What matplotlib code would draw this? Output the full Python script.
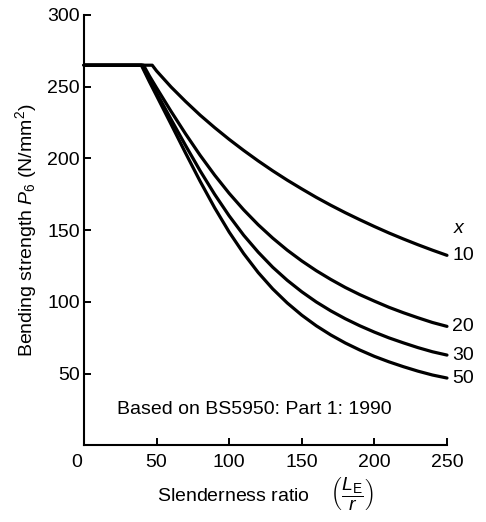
import matplotlib
matplotlib.use("Agg")
import matplotlib.pyplot as plt
from matplotlib.transforms import ScaledTranslation

plt.rcParams["font.family"] = ["Liberation Sans", "DejaVu Sans"]
plt.rcParams["mathtext.fontset"] = "custom"
plt.rcParams["mathtext.rm"] = "Liberation Sans"
plt.rcParams["mathtext.it"] = "Liberation Sans:italic"
plt.rcParams["mathtext.bf"] = "Liberation Sans:bold"

FS = 14

# Plateau strength (N/mm^2) and where each curve leaves it
plateau = 265
start_lambda = {10: 47, 20: 41, 30: 40, 50: 39.5}

# Slenderness ratio samples
lam = [45, 50, 60, 70, 80, 90, 100, 110, 120, 130, 140, 150,
       160, 170, 180, 190, 200, 210, 220, 230, 240, 250]

# Bending strength for each x value (None where still on the plateau)
pb_x10 = [None, 261.0, 249.8, 239.7, 230.2, 221.5, 213.3, 205.6, 198.3, 191.4, 184.9, 178.8,
          172.9, 167.4, 162.2, 157.3, 152.6, 148.1, 143.9, 139.9, 136.1, 132.5]
pb_x20 = [257.6, 249.2, 232.8, 217.1, 202.2, 188.4, 175.7, 164.2, 153.8, 144.5, 136.1, 128.6,
          121.8, 115.7, 110.1, 105.1, 100.6, 96.3, 92.5, 89.0, 85.7, 83.0]
pb_x30 = [255.0, 245.7, 227.2, 209.0, 191.4, 175.0, 160.0, 146.5, 134.7, 124.2, 115.1, 107.1,
          100.0, 93.8, 88.3, 83.4, 79.0, 75.0, 71.5, 68.2, 65.3, 63.0]
pb_x50 = [253.6, 243.7, 223.8, 203.7, 184.1, 165.6, 148.7, 133.7, 120.5, 109.1, 99.3, 90.8,
          83.4, 77.0, 71.4, 66.5, 62.1, 58.3, 54.9, 51.8, 49.1, 47.0]

series = {10: pb_x10, 20: pb_x20, 30: pb_x30, 50: pb_x50}

fig = plt.figure(figsize=(4.86, 5.22), dpi=100)
ax = fig.add_axes([0.1728, 0.1466, 0.7469, 0.8247])

for xv, vals in series.items():
    xs = [0, start_lambda[xv]]
    ys = [plateau, plateau]
    for l, v in zip(lam, vals):
        if v is not None and l > start_lambda[xv]:
            xs.append(l)
            ys.append(v)
    ax.plot(xs, ys, color="black", lw=2.3, solid_capstyle="round",
            solid_joinstyle="round", clip_on=False)
    ax.text(253.5, vals[-1], str(xv), ha="left", va="center", fontsize=FS,
            clip_on=False)

ax.text(254.5, 151, "x", ha="left", va="center", fontsize=FS,
        fontstyle="italic", clip_on=False)

ax.text(23, 25, "Based on BS5950: Part 1: 1990", ha="left", va="center",
        fontsize=FS)

ax.set_xlim(0, 250)
ax.set_ylim(0, 300)
ax.set_xticks([0, 50, 100, 150, 200, 250])
ax.set_yticks([50, 100, 150, 200, 250, 300])

for side in ("top", "right"):
    ax.spines[side].set_visible(False)
for side in ("left", "bottom"):
    ax.spines[side].set_linewidth(1.5)

ax.tick_params(axis="both", direction="in", length=5, width=1.4,
               labelsize=FS, colors="black")
ax.tick_params(axis="y", pad=3)
ax.tick_params(axis="x", pad=6)

# the origin label sits a little left of the corner
zero_lbl = ax.get_xticklabels()[0]
zero_lbl.set_transform(zero_lbl.get_transform()
                       + ScaledTranslation(-7 / 100, 0, fig.dpi_scale_trans))

ax.set_ylabel(r"Bending strength $P_6$ (N/mm$^2$)", fontsize=FS, labelpad=6)
ax.set_xlabel(r"Slenderness ratio    $\left(\dfrac{L_{\rm E}}{r}\right)$",
              fontsize=FS, labelpad=4)

fig.savefig("out.png", dpi=100)
